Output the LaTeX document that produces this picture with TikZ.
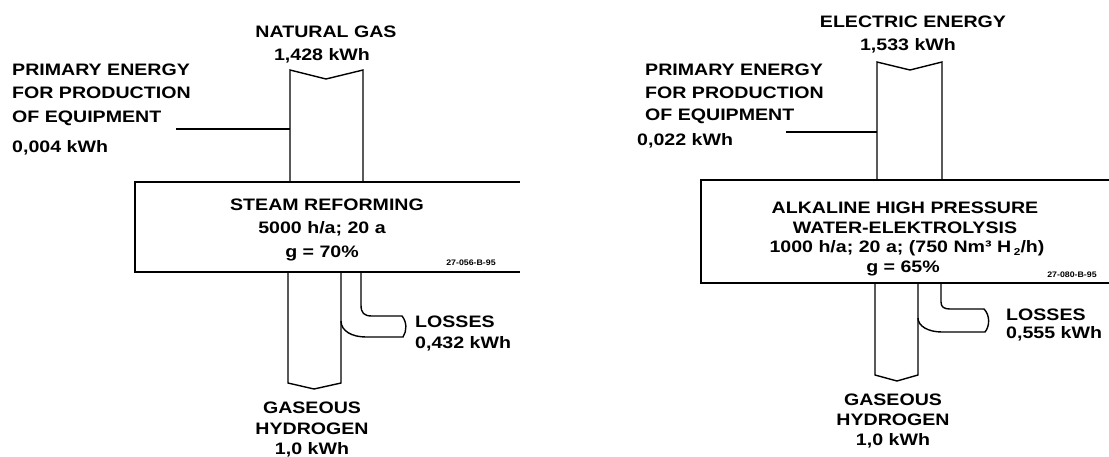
\documentclass[tikz,border=0pt]{standalone}
\usepackage{fontspec}
\setmainfont{Liberation Sans Bold}[FakeStretch=1.18]
\newfontfamily\smallbold{Liberation Sans Bold}[FakeStretch=1.1]
\begin{document}
\begin{tikzpicture}[x=1pt,y=-1pt,
  txt/.style={font=\fontsize{16.6}{23}\selectfont,inner sep=0pt,anchor=base},
  ltxt/.style={txt,anchor=base west},
  code/.style={font=\smallbold\fontsize{8}{8}\selectfont,inner sep=0pt,anchor=base},
  pipe/.style={line width=1.4pt,line join=miter},
  boxline/.style={line width=1.9pt}]
\useasboundingbox (0,0) rectangle (1109,456);

% ---------------- left panel ----------------
\node[txt] (ng1) at (326,37) {NATURAL GAS};
\node[txt] (ng2) at (322,60) {1,428 kWh};
\node[ltxt] (pl1) at (12,75) {PRIMARY ENERGY};
\node[ltxt] (pl2) at (12,98) {FOR PRODUCTION};
\node[ltxt] (pl3) at (12,122) {OF EQUIPMENT};
\node[ltxt] (pl4) at (12,152) {0,004 kWh};
\coordinate (lside) at (176,129);
\coordinate (lsideend) at (290,129);
\draw[pipe] (290,182) -- (290,70) -- (326,79) -- (363,70) -- (363,182);
\draw[pipe] (lside) -- (lsideend);
\draw[boxline] (520,182) -- (135,182) -- (135,272) -- (520,272);
\node[txt] (sr1) at (327,210) {STEAM REFORMING};
\node[txt] (sr2) at (322,233) {5000 h/a; 20 a};
\node[txt] (sr3) at (322,257) {g = 70\%};
\node[code] (sr4) at (471,265) {27-056-B-95};
\draw[pipe] (288,272) -- (288,383) -- (314,389) -- (341,383) -- (341,272);
\draw[pipe] (361,272) -- (361,305) .. controls (361,313) and (364,316) .. (372,316)
  -- (402,316) .. controls (407,322) and (407,331) .. (403,337)
  -- (366,337) .. controls (352,337) and (341,331) .. (341,321);
\node[ltxt] (ll1) at (415,327) {LOSSES};
\node[ltxt] (ll2) at (415,348) {0,432 kWh};
\node[txt] (lg1) at (312,413) {GASEOUS};
\node[txt] (lg2) at (312,434) {HYDROGEN};
\node[txt] (lg3) at (312,454) {1,0 kWh};

% ---------------- right panel ----------------
\node[txt] (ee1) at (913,27) {ELECTRIC ENERGY};
\node[txt] (ee2) at (908,50) {1,533 kWh};
\node[ltxt] (pr1) at (645,75) {PRIMARY ENERGY};
\node[ltxt] (pr2) at (645,98) {FOR PRODUCTION};
\node[ltxt] (pr3) at (645,120) {OF EQUIPMENT};
\node[ltxt] (pr4) at (637,145) {0,022 kWh};
\coordinate (rside) at (786,132);
\coordinate (rsideend) at (877,132);
\draw[pipe] (877,180) -- (877,62) -- (910,70) -- (942,62) -- (942,180);
\draw[pipe] (rside) -- (rsideend);
\draw[boxline] (1115,180) -- (701,180) -- (701,283) -- (1115,283);
\node[txt] (ak1) at (905,213) {ALKALINE HIGH PRESSURE};
\node[txt] (ak2) at (905,233) {WATER-ELEKTROLYSIS};
\node[txt] (ak3) at (907,252) {1000 h/a; 20 a; (750 Nm³ H\,{\fontsize{10}{10}\selectfont\raisebox{-3pt}{2}}/h)};
\node[txt] (ak4) at (903,272) {g = 65\%};
\node[code] (ak5) at (1072,277) {27-080-B-95};
\draw[pipe] (875,283) -- (875,375) -- (897,381) -- (918,375) -- (918,283);
\draw[pipe] (941,283) -- (941,302) .. controls (941,307) and (944,309) .. (950,309)
  -- (984,309) .. controls (990,315) and (990,326) .. (985,332)
  -- (942,332) .. controls (928,332) and (918,326) .. (918,318);
\node[ltxt] (rl1) at (1006,320) {LOSSES};
\node[ltxt] (rl2) at (1006,338) {0,555 kWh};
\node[txt] (rg1) at (893,405) {GASEOUS};
\node[txt] (rg2) at (893,425) {HYDROGEN};
\node[txt] (rg3) at (893,445) {1,0 kWh};
\end{tikzpicture}
\end{document}
